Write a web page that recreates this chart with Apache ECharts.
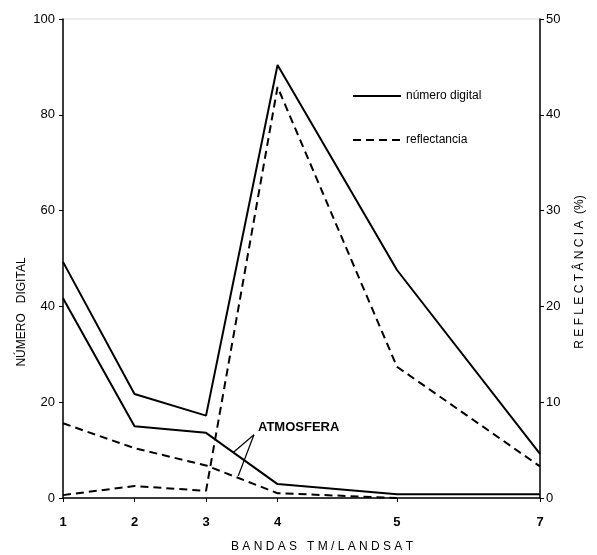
<!DOCTYPE html>
<html><head><meta charset="utf-8">
<script src="https://cdn.jsdelivr.net/npm/echarts@6/dist/echarts.min.js"></script>
<style>html,body{margin:0;padding:0;background:#fff}#c{width:597px;height:555px}</style>
</head><body><div id="c"></div>
<script>
// Bands (x categories) and their position along the wavelength-like axis
const bands = ['1', '2', '3', '4', '5', '7'];
const bandPos = [1, 2, 3, 4, 5.67, 7.67];
// Número digital (left axis, 0-100)
const ndSurface = [49.3, 21.7, 17.2, 90.4, 47.6, 9.2];
const ndAtmos = [41.7, 15.0, 13.6, 2.9, 0.8, 0.8];
// Reflectância % (right axis, 0-50)
const reflSurface = [0.3, 1.25, 0.75, 42.9, 13.7, 3.3];
const reflAtmos = [7.8, 5.2, 3.4, 0.5, 0, null];
const leftTicks = [0, 20, 40, 60, 80, 100];
const rightTicks = [0, 10, 20, 30, 40, 50];

const pts = (vals) => bandPos.map((x, i) => [x, vals[i]]);
const font = 'Liberation Sans, Arial, sans-serif';
const chart = echarts.init(document.getElementById('c'));
const solid = { color: '#000', width: 2, type: 'solid' };
const dashed = { color: '#000', width: 2, type: [8, 5] };

chart.setOption({
  animation: false,
  backgroundColor: '#fff',
  grid: { left: 63, right: 57, top: 19, bottom: 57, show: true, borderColor: '#d8d8d8', borderWidth: 1 },
  legend: {
    orient: 'vertical', left: 347, top: 85, itemWidth: 48, itemHeight: 14, itemGap: 32,
    data: ['número digital', 'reflectancia'],
    itemStyle: { opacity: 0 },
    textStyle: { fontFamily: font, fontSize: 12, color: '#000' }
  },
  xAxis: {
    type: 'value', min: 1, max: 7.67,
    splitLine: { show: false },
    axisLine: { lineStyle: { color: '#000', width: 1.5 } },
    axisTick: { show: true, customValues: bandPos, length: 4, lineStyle: { color: '#000' } },
    axisLabel: {
      customValues: bandPos, margin: 18, color: '#000', fontFamily: font, fontSize: 13, fontWeight: 'bold',
      formatter: (v) => {
        let best = 0;
        bandPos.forEach((p, i) => { if (Math.abs(p - v) < Math.abs(bandPos[best] - v)) best = i; });
        return bands[best];
      }
    }
  },
  yAxis: [
    {
      type: 'value', min: 0, max: 100, interval: 20, position: 'left',
      splitLine: { show: false },
      axisLine: { show: true, lineStyle: { color: '#000', width: 1.5 } },
      axisTick: { show: true, length: 4, lineStyle: { color: '#000' } },
      axisLabel: { customValues: leftTicks, margin: 8, color: '#000', fontFamily: font, fontSize: 13 }
    },
    {
      type: 'value', min: 0, max: 50, interval: 10, position: 'right',
      splitLine: { show: false },
      axisLine: { show: true, lineStyle: { color: '#000', width: 1.5 } },
      axisTick: { show: true, length: 4, lineStyle: { color: '#000' } },
      axisLabel: { customValues: rightTicks, margin: 6, color: '#000', fontFamily: font, fontSize: 13 }
    }
  ],
  series: [
    { name: 'número digital', type: 'line', yAxisIndex: 0, data: pts(ndSurface), symbol: 'none', lineStyle: solid, itemStyle: { color: '#000' } },
    {
      name: 'número digital', type: 'line', yAxisIndex: 0, data: pts(ndAtmos), symbol: 'none', lineStyle: solid, itemStyle: { color: '#000' },
      markLine: {
        silent: true, symbol: 'none', label: { show: false },
        lineStyle: { color: '#000', width: 1.2, type: 'solid' },
        data: [
          [{ coord: [3.67, 13.2] }, { coord: [3.38, 9.5] }],
          [{ coord: [3.67, 13.2] }, { coord: [3.45, 4.6] }]
        ]
      }
    },
    { name: 'reflectancia', type: 'line', yAxisIndex: 1, data: pts(reflSurface), symbol: 'none', lineStyle: dashed, itemStyle: { color: '#000' } },
    { name: 'reflectancia', type: 'line', yAxisIndex: 1, data: pts(reflAtmos), symbol: 'none', lineStyle: dashed, itemStyle: { color: '#000' }, connectNulls: false }
  ],
  graphic: [
    { type: 'text', left: 258, top: 421, style: { text: 'ATMOSFERA', font: 'bold 13px ' + font, fill: '#000' } },
    { type: 'text', x: 22, y: 312, rotation: Math.PI / 2, style: { text: 'NÚMERO   DIGITAL', font: '12px ' + font, fill: '#000', align: 'center', verticalAlign: 'middle' } },
    { type: 'text', x: 580, y: 272, rotation: Math.PI / 2, style: { text: 'R E F L E C T Â N C I A  (%)', font: '12px ' + font, fill: '#000', align: 'center', verticalAlign: 'middle' } },
    { type: 'text', x: 322, y: 547, style: { text: 'B A N D A S   T M / L A N D S A T', font: '12px ' + font, fill: '#000', align: 'center', verticalAlign: 'middle' } }
  ]
});
</script>
</body></html>
